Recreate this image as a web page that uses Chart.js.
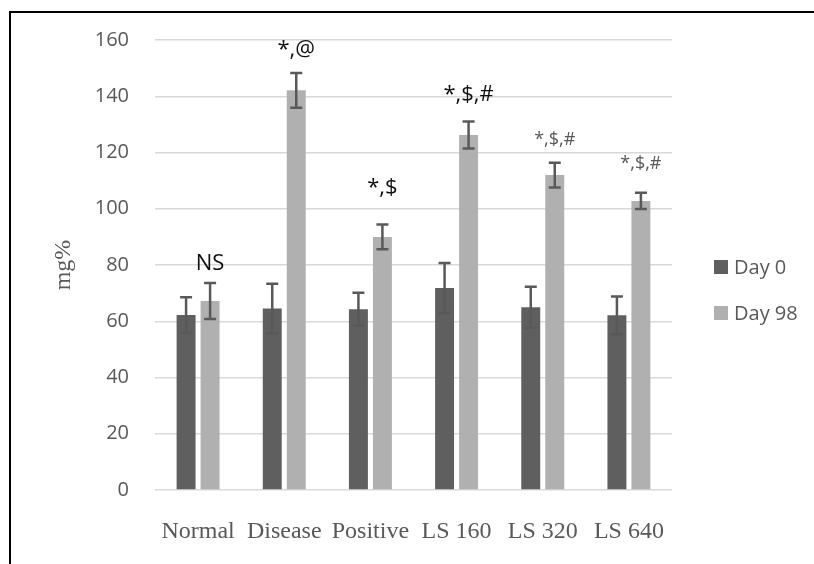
<!DOCTYPE html>
<html>
<head>
<meta charset="utf-8">
<script src="https://cdn.jsdelivr.net/npm/chart.js@4.4.0/dist/chart.umd.min.js"></script>
<style>
  html, body { margin: 0; padding: 0; background: #fff; overflow: hidden; }
  #frame { position: absolute; left: 9px; top: 11px; width: 900px; height: 700px; border: 2px solid #000; }
  #wrap { position: absolute; left: 0; top: 0; width: 814px; height: 564px; }
</style>
</head>
<body>
<div id="frame"></div>
<div id="wrap"><canvas id="chart" width="814" height="564"></canvas></div>
<script>
// groups on the x axis
const groups = ['Normal', 'Disease', 'Positive', 'LS 160', 'LS 320', 'LS 640'];
const seriesNames = ['Day 0', 'Day 98'];

// mean values (mg%)
const day0 = [62.2, 64.5, 64.3, 71.8, 65.0, 62.1];
const day98 = [67.2, 142.1, 90.0, 126.2, 112.0, 102.8];

// error bar half-lengths
const day0Err = [6.3, 8.8, 5.8, 8.9, 7.3, 6.7];
const day98Err = [6.4, 6.2, 4.4, 4.8, 4.4, 2.9];

// significance marks above Day 98 bars, and the value level they sit at
const marks = ['NS', '*,@', '*,$', '*,$,#', '*,$,#', '*,$,#'];
const markLevel = [80.3, 156.6, 107.4, 140.6, 124.5, 116.0];
const markSmall = [false, false, false, false, true, true];

const yTicks = [0, 20, 40, 60, 80, 100, 120, 140, 160];

const colors = ['#5f5f5f', '#b0b0b0'];
const errs = [day0Err, day98Err];

const errorBars = {
  id: 'errorBars',
  afterDatasetsDraw(chart) {
    const ctx = chart.ctx;
    const y = chart.scales.y;
    ctx.save();
    ctx.strokeStyle = '#595959';
    ctx.lineWidth = 2.5;
    chart.data.datasets.forEach((ds, i) => {
      const meta = chart.getDatasetMeta(i);
      meta.data.forEach((bar, j) => {
        const v = ds.data[j], e = errs[i][j];
        const top = y.getPixelForValue(v + e);
        const bot = y.getPixelForValue(v - e);
        const x = bar.x;
        ctx.beginPath();
        ctx.moveTo(x, top); ctx.lineTo(x, bot);
        ctx.moveTo(x - 6, top); ctx.lineTo(x + 6, top);
        ctx.moveTo(x - 6, bot); ctx.lineTo(x + 6, bot);
        ctx.stroke();
      });
    });
    ctx.restore();
  }
};

const markLabels = {
  id: 'markLabels',
  afterDatasetsDraw(chart) {
    const ctx = chart.ctx;
    const y = chart.scales.y;
    const meta = chart.getDatasetMeta(1);
    ctx.save();
    ctx.textAlign = 'center';
    ctx.textBaseline = 'middle';
    marks.forEach((m, j) => {
      const bar = meta.data[j];
      if (markSmall[j]) {
        ctx.font = '18px "Open Sans"';
        ctx.fillStyle = '#595959';
      } else {
        ctx.font = '22px "Open Sans"';
        ctx.fillStyle = '#111';
      }
      ctx.fillText(m, bar.x, y.getPixelForValue(markLevel[j]));
    });
    ctx.restore();
  }
};

// legend drawn by hand so the spacing matches
const sideLegend = {
  id: 'sideLegend',
  afterDraw(chart) {
    const ctx = chart.ctx;
    ctx.save();
    ctx.font = '20px "Open Sans"';
    ctx.textBaseline = 'middle';
    chart.data.datasets.forEach((ds, i) => {
      const cy = 267 + i * 46;
      ctx.fillStyle = ds.backgroundColor;
      ctx.fillRect(714, cy - 7, 14, 14);
      ctx.fillStyle = '#595959';
      ctx.fillText(ds.label, 734, cy + 1);
    });
    ctx.restore();
  }
};

new Chart(document.getElementById('chart'), {
  type: 'bar',
  data: {
    labels: groups,
    datasets: [
      { label: seriesNames[0], data: day0, backgroundColor: colors[0] },
      { label: seriesNames[1], data: day98, backgroundColor: colors[1] }
    ]
  },
  options: {
    responsive: false,
    animation: false,
    layout: { padding: { left: 12, right: 142, top: 40, bottom: 0 } },
    datasets: { bar: { categoryPercentage: 0.557, barPercentage: 0.79 } },
    plugins: { legend: { display: false }, tooltip: { enabled: false } },
    scales: {
      x: {
        grid: { display: false },
        border: { display: false },
        ticks: { color: '#595959', font: { family: 'Liberation Serif', size: 24 }, padding: 19, maxRotation: 0 },
        afterFit(scale) { scale.height = 74; }
      },
      y: {
        min: 0,
        max: 160,
        afterBuildTicks(scale) { scale.ticks = yTicks.map(v => ({ value: v })); },
        grid: { color: '#d9d9d9', lineWidth: 1.5, drawTicks: false },
        border: { display: false },
        ticks: { color: '#595959', font: { family: 'Open Sans', size: 20 }, padding: 26 },
        title: {
          display: true,
          text: 'mg%',
          color: '#595959',
          font: { family: 'Liberation Serif', size: 24 },
          padding: { top: 37, bottom: 0 }
        },
        afterFit(scale) { scale.width = 143; }
      }
    }
  },
  plugins: [errorBars, markLabels, sideLegend]
});
</script>
</body>
</html>
